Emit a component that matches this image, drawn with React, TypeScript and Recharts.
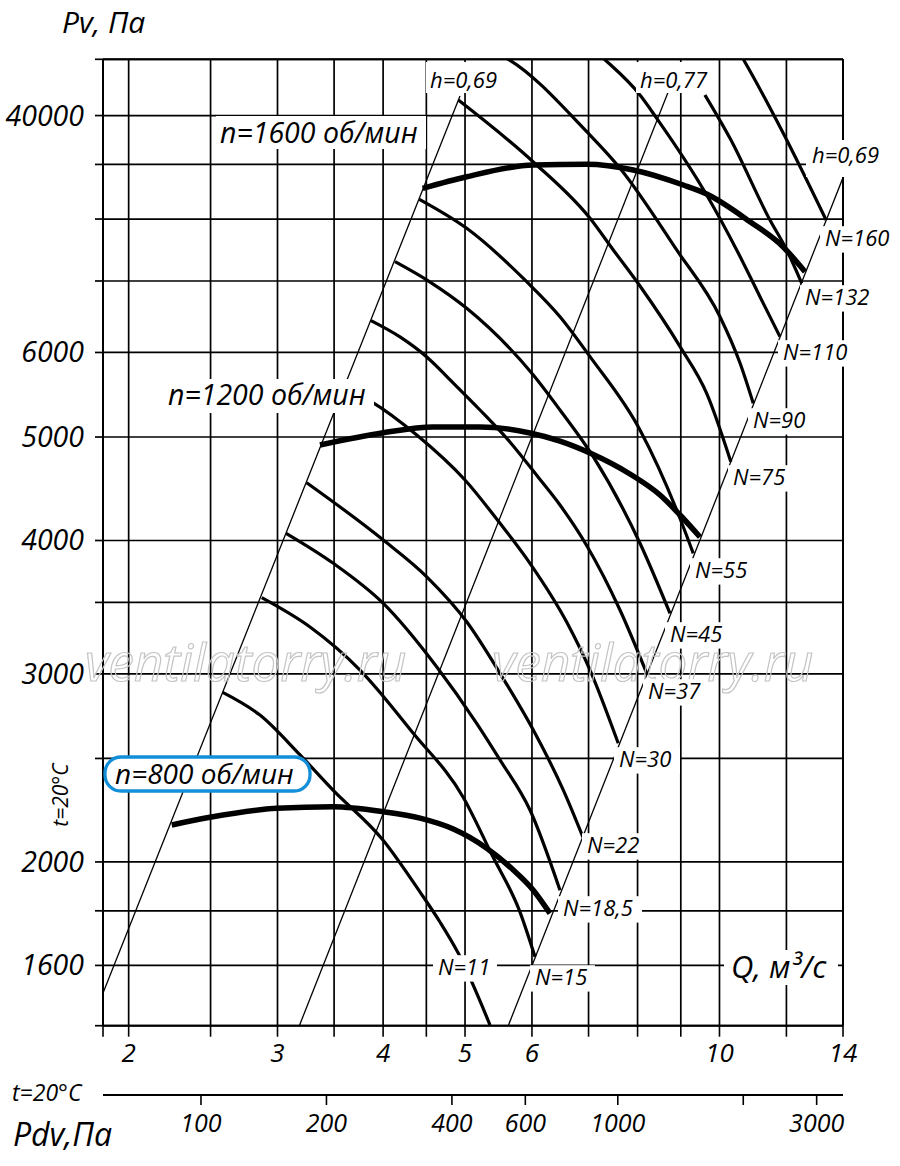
import React from "react";
import { ComposedChart, Line, XAxis, YAxis, CartesianGrid, ReferenceLine } from "recharts";

// Q axis (m3/s), log scale
const qTicks = [1.865, 2, 2.5, 3, 3.5, 4, 4.5, 5, 6, 7, 8, 9, 10, 12, 14];
const qLabels = [2, 3, 4, 5, 6, 10, 14];
// Pv axis (Pa), log scale; the 10000 line is printed "40000" on the original
const pTicks = [1405, 1600, 1800, 2000, 2500, 3000, 3500, 4000, 5000, 6000, 7000, 8000, 9000, 10000, 11290];
const pLabels: Record<number, string> = {
  1600: "1600", 2000: "2000", 3000: "3000", 4000: "4000", 5000: "5000", 6000: "6000", 10000: "40000",
};
// Pdv axis (Pa)
const pdvTicks = [100, 200, 400, 600, 1000, 2000, 3000];
const pdvLabels = [100, 200, 400, 600, 1000, 3000];

// efficiency lines
const eta069Left: [number, number][] = [[1.865, 1508], [4.932, 10431]];
const eta077: [number, number][] = [[3.184, 1405], [8.698, 10528]];
const eta069Right: [number, number][] = [[5.625, 1405], [13.99, 8735]];

// speed curves
const n800: [number, number][] = [
  [2.249, 2166], [2.496, 2202], [2.994, 2245], [3.493, 2253], [4.002, 2229], [4.424, 2198],
  [4.843, 2147], [5.304, 2060], [5.702, 1966], [6.022, 1882], [6.302, 1790],
];
const n1200: [number, number][] = [
  [3.368, 4915], [4.002, 5047], [4.586, 5110], [5.208, 5110], [5.968, 5044], [6.476, 4957],
  [7.028, 4831], [7.836, 4617], [8.505, 4412], [8.981, 4226], [9.483, 4030],
];
const n1600: [number, number][] = [
  [4.455, 8548], [5.023, 8765], [6.022, 8989], [6.965, 9002], [7.907, 8892], [9.061, 8609],
  [9.657, 8444], [10.867, 7954], [11.888, 7537], [12.623, 7141],
];

// motor power curves
const N11: [number, number][] = [
  [2.584, 2883], [2.86, 2745], [3.19, 2519], [3.49, 2335], [3.998, 2097], [4.424, 1874],
  [4.67, 1757], [4.906, 1644], [5.352, 1407],
];
const N15: [number, number][] = [
  [2.874, 3536], [3.278, 3319], [3.756, 3025], [4.34, 2641], [4.973, 2301], [5.382, 2030],
  [5.808, 1795], [6.05, 1630],
];
const N18_5: [number, number][] = [
  [3.071, 4063], [3.493, 3808], [4.002, 3493], [4.628, 3047], [5.161, 2697], [5.5, 2492],
  [5.968, 2237], [6.476, 1882],
];
const N22: [number, number][] = [
  [3.248, 4531], [4.002, 4004], [4.505, 3699], [5.023, 3357], [5.5, 3004], [6.022, 2658],
  [6.535, 2335], [6.894, 2110],
];
const N30: [number, number][] = [
  [3.589, 5566], [3.877, 5395], [4.384, 5022], [5.0, 4557], [5.5, 4151], [5.968, 3808],
  [6.595, 3355], [7.028, 3025], [7.59, 2583],
];
const N37: [number, number][] = [
  [3.87, 6426], [4.188, 6204], [4.505, 5942], [4.843, 5617], [5.208, 5300], [5.65, 4947],
  [6.1, 4587], [6.476, 4318], [6.97, 3953], [7.626, 3443], [8.202, 3004],
];
const N45: [number, number][] = [
  [4.132, 7297], [4.546, 6984], [5.023, 6600], [6.022, 5715], [6.476, 5300], [7.09, 4792],
  [8.053, 3976], [8.739, 3418],
];
const N55: [number, number][] = [
  [4.415, 8348], [5.023, 7842], [5.914, 6989], [6.476, 6481], [7.028, 5946], [8.053, 5077],
  [8.9, 4272], [9.311, 3890],
];
const N75: [number, number][] = [
  [4.91, 10341], [6.022, 9048], [7.028, 8013], [7.488, 7484], [8.053, 6924], [8.981, 6076],
  [9.657, 5494], [10.314, 4741],
];
const N90: [number, number][] = [
  [5.208, 11619], [5.6, 11315], [6.965, 9658], [7.626, 8926], [8.9, 7484], [10.014, 6481],
  [10.575, 5865], [10.964, 5377],
];
const N110: [number, number][] = [
  [7.028, 11612], [7.288, 11315], [8.053, 10453], [8.429, 9941], [9.657, 8426], [10.48, 7484],
  [11.166, 6767], [11.79, 6208],
];
const N132: [number, number][] = [
  [9.612, 10453], [10.291, 9522], [11.474, 7984], [12.01, 7484], [12.511, 6965],
];
const N160: [number, number][] = [
  [10.376, 11719], [10.67, 11290], [11.898, 9625], [13.37, 7984],
];

const toPts = (a: [number, number][]) => a.map(([q, p]) => ({ q, p }));

const FONT = "'Open Sans', 'Noto Sans', 'DejaVu Sans', sans-serif";

const thin = [eta069Left, eta077, eta069Right];
const power = [N11, N15, N18_5, N22, N30, N37, N45, N55, N75, N90, N110, N132, N160];
const speed = [n800, n1200, n1600];

const QTick = (props: any) => {
  const { x, y, payload } = props;
  const v = payload.value;
  if (!qLabels.some((l) => Math.abs(l - v) < 1e-6)) return <g />;
  return (
    <text x={x} y={y + 23} textAnchor="middle" fontSize={26} fontStyle="italic" fontFamily={FONT} fill="#000">
      {String(v)}
    </text>
  );
};

const PdvTick = (props: any) => {
  const { x, y, payload } = props;
  const v = payload.value;
  if (!pdvLabels.some((l) => Math.abs(l - v) < 1e-6)) return <g />;
  return (
    <text x={x} y={y + 25} textAnchor="middle" fontSize={25} fontStyle="italic" fontFamily={FONT} fill="#000">
      {String(Math.round(v))}
    </text>
  );
};

const PTick = (props: any) => {
  const { x, y, payload } = props;
  const l = pLabels[payload.value];
  if (!l) return <g />;
  return (
    <text x={x} y={y + 10} textAnchor="end" fontSize={28.5} fontStyle="italic" fontFamily={FONT} fill="#000">
      {l}
    </text>
  );
};

const Tag = ({ x, y, w, t, size = 22 }: { x: number; y: number; w: number; t: string; size?: number }) => (
  <g>
    <rect x={x - 5} y={y - size * 0.9} width={w + 10} height={size * 1.2} fill="#fff" />
    <text x={x} y={y} fontSize={size} fontStyle="italic" fontFamily={FONT} fill="#000">
      {t}
    </text>
  </g>
);

const nTags: [string, number, number, number][] = [
  ["N=11", 438, 975, 54],
  ["N=15", 535, 985, 55],
  ["N=18,5", 563, 916, 74],
  ["N=22", 587, 853, 55],
  ["N=30", 619, 767, 56],
  ["N=37", 648, 699, 54],
  ["N=45", 670, 642, 55],
  ["N=55", 695, 578, 55],
  ["N=75", 733, 485, 54],
  ["N=90", 753, 428, 55],
  ["N=110", 783, 360, 67],
  ["N=132", 805, 305, 67],
  ["N=160", 825, 246, 67],
];

export default function App() {
  return (
    <div style={{ position: "relative", width: 900, height: 1166, background: "#fff" }}>
      <style>{"body{margin:0;background:#fff}"}</style>
      <ComposedChart width={900} height={1166} margin={{ top: 59.3, right: 57, bottom: 11, left: 0 }}>
        <CartesianGrid xAxisId={0} yAxisId="p" stroke="#000" strokeWidth={1.7} syncWithTicks />
        <XAxis
          xAxisId={0}
          dataKey="q"
          type="number"
          scale="log"
          domain={[1.865, 14]}
          allowDataOverflow
          ticks={qTicks}
          interval={0}
          tick={QTick}
          tickSize={11}
          tickMargin={2}
          height={69.3}
          axisLine={{ stroke: "#000", strokeWidth: 2 }}
          tickLine={{ stroke: "#000", strokeWidth: 1.6 }}
        />
        <XAxis
          xAxisId={1}
          dataKey="pdv"
          type="number"
          scale="log"
          domain={[58.2, 3470]}
          allowDataOverflow
          ticks={pdvTicks}
          interval={0}
          tick={PdvTick}
          tickSize={10}
          tickMargin={2}
          height={60}
          axisLine={{ stroke: "#000", strokeWidth: 2 }}
          tickLine={{ stroke: "#000", strokeWidth: 1.6 }}
        />
        <YAxis
          yAxisId="p"
          type="number"
          scale="log"
          domain={[1405, 11290]}
          allowDataOverflow
          ticks={pTicks}
          interval={0}
          tick={PTick}
          tickSize={8}
          tickMargin={11}
          width={103}
          axisLine={{ stroke: "#000", strokeWidth: 2 }}
          tickLine={{ stroke: "#000", strokeWidth: 1.7 }}
        />
        <ReferenceLine xAxisId={0} yAxisId="p" y={11290} stroke="#000" strokeWidth={2} />
        <ReferenceLine xAxisId={0} yAxisId="p" x={14} stroke="#000" strokeWidth={2} />
        {/* invisible series that binds the Pdv scale so its ticks are drawn */}
        <Line
          xAxisId={1}
          yAxisId="p"
          data={pdvTicks.map((v) => ({ pdv: v, p: 2000 }))}
          dataKey="p"
          stroke="none"
          dot={false}
          activeDot={false}
          legendType="none"
          isAnimationActive={false}
        />
        {thin.map((d, i) => (
          <Line
            key={"e" + i}
            xAxisId={0}
            yAxisId="p"
            data={toPts(d)}
            dataKey="p"
            type="linear"
            stroke="#000"
            strokeWidth={1.3}
            dot={false}
            activeDot={false}
            isAnimationActive={false}
          />
        ))}
        {power.map((d, i) => (
          <Line
            key={"n" + i}
            xAxisId={0}
            yAxisId="p"
            data={toPts(d)}
            dataKey="p"
            type="monotone"
            stroke="#000"
            strokeWidth={3.2}
            dot={false}
            activeDot={false}
            isAnimationActive={false}
          />
        ))}
        {speed.map((d, i) => (
          <Line
            key={"s" + i}
            xAxisId={0}
            yAxisId="p"
            data={toPts(d)}
            dataKey="p"
            type="monotone"
            stroke="#000"
            strokeWidth={5.5}
            dot={false}
            activeDot={false}
            isAnimationActive={false}
          />
        ))}
      </ComposedChart>
      <svg width={900} height={1166} style={{ position: "absolute", left: 0, top: 0, pointerEvents: "none" }}>
        <g fontFamily={FONT} fontStyle="italic" fill="#000">
          <text x={85} y={681} fontSize={51} fill="none" stroke="#c4c4c4" strokeWidth={1.2}>ventilatorry.ru</text>
          <text x={492} y={681} fontSize={51} fill="none" stroke="#c4c4c4" strokeWidth={1.2}>ventilatorry.ru</text>

          <text x={62} y={33} fontSize={30}>Pv, Па</text>

          <rect x={216} y={116} width={210} height={33} fill="#fff" />
          <text x={220} y={142.7} fontSize={28.5}>n=1600 об/мин</text>
          <rect x={164} y={379} width={210} height={34} fill="#fff" />
          <text x={168} y={405} fontSize={28.5}>n=1200 об/мин</text>
          <rect x={105} y={757} width={205} height={34} rx={16} fill="#fff" stroke="#128fd8" strokeWidth={3.3} />
          <text x={115} y={783.5} fontSize={28}>n=800 об/мин</text>

          <rect x={426} y={62} width={78} height={31} fill="#fff" />
          <text x={430} y={88} fontSize={22}>h=0,69</text>
          <rect x={636} y={62} width={76} height={31} fill="#fff" />
          <text x={640} y={88} fontSize={22}>h=0,77</text>
          <rect x={806} y={140} width={78} height={37} fill="#fff" />
          <text x={812} y={163.3} fontSize={22}>h=0,69</text>

          {nTags.map(([t, x, y, w]) => (
            <Tag key={t} x={x} y={y} w={w} t={t} />
          ))}

          <rect x={724} y={950} width={114} height={35} fill="#fff" />
          <text x={731} y={978} fontSize={31}>Q, м³/с</text>

          <text x={68} y={795} fontSize={21} textAnchor="middle" transform="rotate(-90 68 795)">t=20°C</text>
          <text x={12} y={1101} fontSize={23}>t=20°C</text>
          <text x={13} y={1146} fontSize={32}>Pdv,Па</text>
        </g>
      </svg>
    </div>
  );
}
